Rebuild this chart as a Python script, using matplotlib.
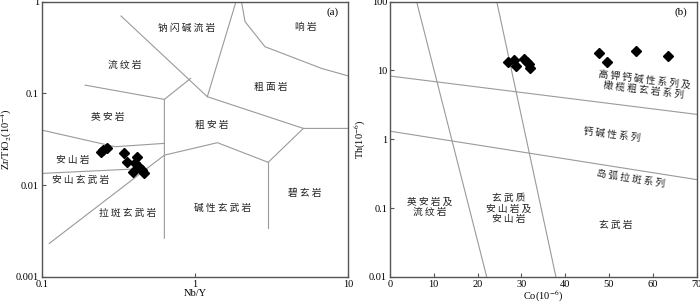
import matplotlib
matplotlib.use("Agg")
import matplotlib.pyplot as plt
from matplotlib.ticker import FixedLocator, FixedFormatter, NullLocator

plt.rcParams["font.family"] = ["Liberation Serif", "Noto Sans CJK SC"]
plt.rcParams["mathtext.fontset"] = "stix"

# ---- panel (a) data: Nb/Y vs Zr/TiO2 ----
a_nby = [0.243, 0.252, 0.2655, 0.344, 0.358, 0.417, 0.406, 0.434, 0.393, 0.449, 0.465]
a_zrti = [0.0230, 0.0242, 0.0256, 0.0226, 0.0177, 0.0204, 0.0173, 0.0159, 0.0140, 0.0146, 0.01345]

# field boundaries (x list, y list)
a_bounds = [
    ([0.329, 1.203, 5.09, 10.0], [0.698, 0.092, 0.0415, 0.0415]),
    ([1.203, 1.85], [0.092, 1.0]),
    ([2.01, 2.12, 2.86, 6.70, 10.0], [1.0, 0.605, 0.323, 0.187, 0.155]),
    ([0.192, 0.631, 0.631], [0.123, 0.086, 0.00263]),
    ([0.631, 0.937], [0.086, 0.146]),
    ([0.1, 0.301, 0.631], [0.0398, 0.0262, 0.0285]),
    ([0.1, 0.484], [0.0134, 0.0152]),
    ([0.112, 0.631, 1.40, 3.0, 5.09], [0.00231, 0.0212, 0.029, 0.0177, 0.0415]),
    ([3.0, 3.0], [0.0177, 0.00337]),
]
a_labels = ["钠闪碱流岩", "响岩", "流纹岩", "粗面岩", "英安岩", "粗安岩",
            "安山岩", "安山玄武岩", "碧玄岩", "碱性玄武岩", "拉斑玄武岩"]
a_lx = [0.882, 5.3, 0.35, 3.12, 0.269, 1.284, 0.159, 0.1805, 5.21, 1.507, 0.364]
a_ly = [0.512, 0.533, 0.204, 0.118, 0.0547, 0.0451, 0.01875, 0.01134, 0.00812, 0.00556, 0.00491]
a_xticks = [0.1, 1, 10]
a_xticklabels = ["0.1", "1", "10"]
a_yticks = [0.001, 0.01, 0.1, 1]
a_yticklabels = ["0.001", "0.01", "0.1", "1"]

# ---- panel (b) data: Co vs Th ----
b_co = [27.0, 28.3, 28.7, 30.7, 31.3, 31.7, 32.1, 47.7, 49.5, 56.1, 63.5]
b_th = [13.4, 14.2, 11.7, 14.5, 13.1, 12.3, 11.0, 18.1, 13.1, 19.2, 16.4]
b_bounds = [
    ([6.1, 22.1], [100, 0.01]),
    ([24.4, 37.9], [100, 0.01]),
    ([0, 70], [8.3, 2.3]),
    ([0, 70], [1.31, 0.259]),
]
b_labels = ["高钾钙碱性系列及\n橄榄粗玄岩系列", "钙碱性系列", "岛弧拉斑系列",
            "英安岩及\n流纹岩", "玄武质\n安山岩及\n安山岩", "玄武岩"]
b_lx = [58.0, 50.8, 55.0, 9.1, 27.2, 51.5]
b_ly = [6.3, 1.17, 0.267, 0.103, 0.098, 0.056]
b_rot = [-7, -7, -9, 0, 0, 0]
b_xticks = [0, 10, 20, 30, 40, 50, 60, 70]
b_yticks = [0.01, 0.1, 1, 10, 100]
b_yticklabels = ["0.01", "0.1", "1", "10", "100"]

line_c = "#9a9a9a"
spine_c = "#555555"
text_c = "#222222"
cjk = ["Noto Sans CJK SC"]


def spaced(s):
    return "\n".join(" ".join(part) for part in s.split("\n"))


def style(ax):
    for sp in ax.spines.values():
        sp.set_color(spine_c)
        sp.set_linewidth(1.0)
    ax.tick_params(direction="in", length=3, width=0.8, color=spine_c,
                   labelsize=7.5, pad=2, top=False, right=False)
    ax.xaxis.set_minor_locator(NullLocator())
    ax.yaxis.set_minor_locator(NullLocator())


fig = plt.figure(figsize=(7.0, 3.06), dpi=100)

# panel (a)
ax1 = fig.add_axes([0.0596, 0.0955, 0.438, 0.899])
ax1.set_xscale("log")
ax1.set_yscale("log")
ax1.set_xlim(0.1, 10)
ax1.set_ylim(0.001, 1)
for xs, ys in a_bounds:
    ax1.plot(xs, ys, color=line_c, lw=0.8)
ax1.plot(a_nby, a_zrti, "D", color="black", ms=5.4, mec="black")
for t, x, y in zip(a_labels, a_lx, a_ly):
    ax1.text(x, y, spaced(t), family=cjk, fontsize=7, color=text_c,
             ha="center", va="center")
ax1.text(0.97, 0.96, "(a)", transform=ax1.transAxes, ha="right", va="center", fontsize=8)
style(ax1)
ax1.xaxis.set_major_locator(FixedLocator(a_xticks))
ax1.xaxis.set_major_formatter(FixedFormatter(a_xticklabels))
ax1.yaxis.set_major_locator(FixedLocator(a_yticks))
ax1.yaxis.set_major_formatter(FixedFormatter(a_yticklabels))
ax1.set_xlabel("Nb/Y", fontsize=7.5, labelpad=0)
ax1.set_ylabel("Zr/TiO$_2$(10$^{-4}$)", fontsize=7.5, labelpad=1)

# panel (b)
ax2 = fig.add_axes([0.557, 0.0955, 0.438, 0.899])
ax2.set_yscale("log")
ax2.set_xlim(0, 70)
ax2.set_ylim(0.01, 100)
for xs, ys in b_bounds:
    ax2.plot(xs, ys, color=line_c, lw=0.8)
ax2.plot(b_co, b_th, "D", color="black", ms=5.4, mec="black")
for t, x, y, r in zip(b_labels, b_lx, b_ly, b_rot):
    ax2.text(x, y, spaced(t), family=cjk, fontsize=7, color=text_c,
             ha="center", va="center", rotation=r, linespacing=1.05,
             rotation_mode="anchor")
ax2.text(0.97, 0.96, "(b)", transform=ax2.transAxes, ha="right", va="center", fontsize=8)
style(ax2)
ax2.xaxis.set_major_locator(FixedLocator(b_xticks))
ax2.yaxis.set_major_locator(FixedLocator(b_yticks))
ax2.yaxis.set_major_formatter(FixedFormatter(b_yticklabels))
ax2.set_xlabel("Co(10$^{-6}$)", fontsize=7.5, labelpad=0)
ax2.set_ylabel("Th(10$^{-6}$)", fontsize=7.5, labelpad=1)

fig.savefig("out.png", dpi=100)
